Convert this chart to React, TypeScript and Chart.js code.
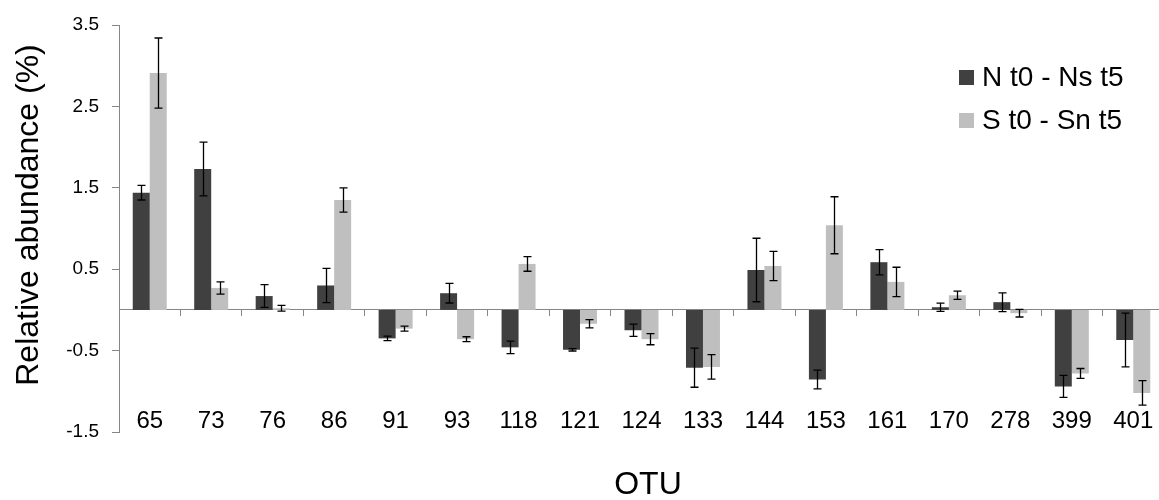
import React, { useEffect, useRef } from "react";
import { Chart, registerables } from "chart.js";

Chart.register(...registerables);

const categories = ["65", "73", "76", "86", "91", "93", "118", "121", "124", "133", "144", "153", "161", "170", "278", "399", "401"];
const seriesNames = ["N t0 - Ns t5", "S t0 - Sn t5"];
const nValues = [1.44, 1.73, 0.17, 0.3, -0.35, 0.205, -0.46, -0.49, -0.25, -0.71, 0.49, -0.856, 0.586, 0.033, 0.095, -0.94, -0.37];
const nErrors = [0.09, 0.33, 0.14, 0.21, 0.027, 0.12, 0.076, 0.015, 0.075, 0.24, 0.39, 0.115, 0.155, 0.05, 0.115, 0.135, 0.33];
const sValues = [2.91, 0.27, 0.02, 1.35, -0.23, -0.36, 0.565, -0.17, -0.36, -0.7, 0.54, 1.04, 0.344, 0.18, -0.04, -0.78, -1.02];
const sErrors = [0.43, 0.075, 0.035, 0.15, 0.03, 0.03, 0.09, 0.05, 0.068, 0.15, 0.18, 0.35, 0.18, 0.05, 0.047, 0.06, 0.15];
const yTitle = "Relative abundance (%)";
const xTitle = "OTU";
const colors = ["#404040", "#bfbfbf"];
const errorSets = [nErrors, sErrors];

const FONT = "'Liberation Sans', Arial, sans-serif";
const AXIS_GRAY = "#868686";

const errorBarPlugin = {
  id: "errorBars",
  afterDatasetsDraw(chart: any) {
    const ctx = chart.ctx;
    const yScale = chart.scales.y;
    ctx.save();
    ctx.strokeStyle = "#000";
    ctx.lineWidth = 1.3;
    chart.data.datasets.forEach((ds: any, i: number) => {
      const meta = chart.getDatasetMeta(i);
      const errs = errorSets[i];
      meta.data.forEach((el: any, j: number) => {
        const v = ds.data[j];
        const e = errs[j];
        const x = Math.round(el.x) + 0.5;
        const y1 = yScale.getPixelForValue(v + e);
        const y2 = yScale.getPixelForValue(v - e);
        ctx.beginPath();
        ctx.moveTo(x, y1);
        ctx.lineTo(x, y2);
        ctx.moveTo(x - 4, y1);
        ctx.lineTo(x + 4, y1);
        ctx.moveTo(x - 4, y2);
        ctx.lineTo(x + 4, y2);
        ctx.stroke();
      });
    });
    ctx.restore();
  },
};

const decorPlugin = {
  id: "decor",
  afterDraw(chart: any) {
    const ctx = chart.ctx;
    ctx.save();
    ctx.fillStyle = "#000";
    ctx.font = `32px ${FONT}`;
    ctx.textAlign = "center";
    ctx.textBaseline = "middle";
    ctx.save();
    ctx.translate(29, 215);
    ctx.rotate(-Math.PI / 2);
    ctx.fillText(yTitle, 0, 0);
    ctx.restore();
    ctx.fillText(xTitle, 648, 485);
    ctx.font = `28px ${FONT}`;
    ctx.textAlign = "left";
    const rows = [77.5, 120.5];
    seriesNames.forEach((name, i) => {
      ctx.fillStyle = colors[i];
      ctx.fillRect(959, rows[i] - 7.5, 15, 15);
      ctx.fillStyle = "#000";
      ctx.fillText(name, 982, rows[i] + 1);
    });
    ctx.restore();
  },
};

export default function App() {
  const ref = useRef<HTMLCanvasElement | null>(null);
  useEffect(() => {
    if (!ref.current) return;
    const chart = new Chart(ref.current, {
      type: "bar",
      data: {
        labels: categories,
        datasets: [
          { label: seriesNames[0], data: nValues, backgroundColor: colors[0], barPercentage: 1, categoryPercentage: 0.553 },
          { label: seriesNames[1], data: sValues, backgroundColor: colors[1], barPercentage: 1, categoryPercentage: 0.553 },
        ],
      },
      options: {
        responsive: false,
        animation: false,
        devicePixelRatio: 1,
        layout: { padding: { top: 25, left: 0, right: 0, bottom: 68 } },
        plugins: { legend: { display: false }, tooltip: { enabled: false } },
        scales: {
          x: {
            position: { y: 0 } as any,
            offset: true,
            grid: { display: true, drawOnChartArea: false, drawTicks: true, tickLength: 6, color: AXIS_GRAY, offset: true },
            border: { display: true, color: AXIS_GRAY, width: 1 },
            ticks: { color: "#000", font: { family: FONT, size: 24 }, padding: 90.9, maxRotation: 0, minRotation: 0, autoSkip: false },
            afterFit: (scale: any) => {
              scale.paddingLeft = 0;
              scale.paddingRight = 0;
              scale.paddingTop = 0;
              scale.paddingBottom = 0;
            },
          },
          y: {
            min: -1.5,
            max: 3.5,
            grid: { display: true, drawOnChartArea: false, drawTicks: true, tickLength: 7, color: AXIS_GRAY },
            border: { display: true, color: AXIS_GRAY, width: 1 },
            ticks: {
              stepSize: 1,
              color: "#000",
              font: { family: FONT, size: 19 },
              padding: 13,
              callback: (v: any) => Number(v).toFixed(1),
            },
            afterFit: (scale: any) => {
              scale.width = 119;
              scale.paddingTop = 0;
              scale.paddingBottom = 0;
            },
          },
        },
      },
      plugins: [errorBarPlugin, decorPlugin],
    });
    return () => chart.destroy();
  }, []);
  return (
    <div style={{ position: "absolute", left: 0, top: 0, width: 1159, height: 500, overflow: "hidden", background: "#fff" }}>
      <canvas ref={ref} width={1164} height={500} style={{ display: "block" }} />
    </div>
  );
}
